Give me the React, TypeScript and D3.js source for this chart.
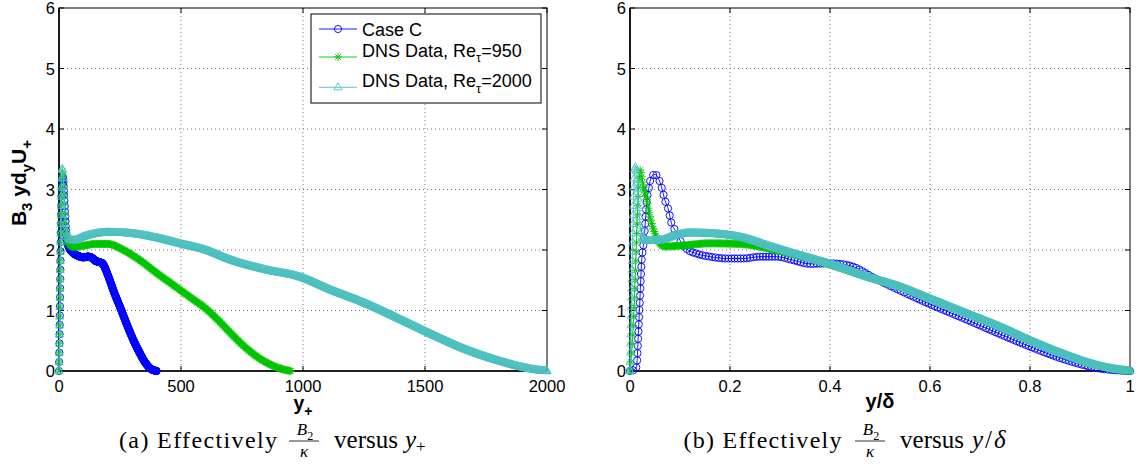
import React, { useEffect, useRef } from "react";
import * as d3 from "d3";

const W = 1139;
const H = 471;

// ---------- Panel (a): x = y+ ----------
const caseC_a_x = [0, 2, 4, 6, 8, 10, 13, 16, 20, 25, 31, 40, 59, 80, 100, 120, 135, 150, 165, 178, 188, 197, 210, 223, 250, 277, 305, 332, 355, 375, 390, 400];
const caseC_a_y = [0, 0.5, 1.1, 1.8, 2.4, 2.85, 3.15, 3.2, 3.0, 2.6, 2.2, 2.05, 1.95, 1.9, 1.88, 1.89, 1.87, 1.82, 1.8, 1.78, 1.71, 1.62, 1.48, 1.33, 1.06, 0.78, 0.51, 0.29, 0.13, 0.04, 0.01, 0];

const dns950_a_x = [0, 2, 4, 6, 8, 10, 12, 14, 17, 20, 25, 30, 40, 60, 100, 150, 200, 264, 332, 400, 469, 537, 605, 650, 700, 750, 800, 850, 900, 930, 950];
const dns950_a_y = [0, 0.6, 1.3, 2.0, 2.6, 3.0, 3.25, 3.3, 3.2, 2.9, 2.5, 2.25, 2.1, 2.05, 2.07, 2.1, 2.1, 2.0, 1.83, 1.62, 1.42, 1.22, 1.02, 0.85, 0.64, 0.44, 0.27, 0.14, 0.05, 0.015, 0];

const dns2000_a_x = [0, 2, 4, 6, 8, 10, 13, 16, 20, 25, 30, 40, 60, 100, 150, 200, 300, 400, 500, 600, 714, 850, 990, 1120, 1260, 1400, 1530, 1670, 1800, 1900, 1960, 2000];
const dns2000_a_y = [0, 0.6, 1.3, 2.0, 2.6, 3.05, 3.35, 3.3, 2.95, 2.55, 2.3, 2.18, 2.16, 2.22, 2.27, 2.29, 2.27, 2.2, 2.1, 2.0, 1.82, 1.67, 1.55, 1.33, 1.11, 0.85, 0.6, 0.35, 0.17, 0.06, 0.015, 0];

// ---------- Panel (b): x = y/delta ----------
const caseC_b_x = [0, 0.008, 0.013, 0.017, 0.02, 0.023, 0.027, 0.03, 0.033, 0.037, 0.043, 0.05, 0.057, 0.063, 0.07, 0.077, 0.083, 0.09, 0.1, 0.113, 0.133, 0.16, 0.193, 0.227, 0.26, 0.293, 0.327, 0.36, 0.4, 0.44, 0.49, 0.54, 0.607, 0.673, 0.74, 0.807, 0.873, 0.94, 0.975, 1.0];
const caseC_b_y = [0, 0.02, 0.07, 0.67, 1.22, 1.78, 2.1, 2.38, 2.77, 2.99, 3.21, 3.25, 3.18, 3.04, 2.82, 2.66, 2.44, 2.33, 2.16, 2.02, 1.94, 1.89, 1.86, 1.86, 1.89, 1.89, 1.83, 1.77, 1.78, 1.74, 1.53, 1.33, 1.08, 0.85, 0.61, 0.38, 0.18, 0.04, 0.01, 0];

const dns950_b_x = [0, 0.004, 0.008, 0.011, 0.014, 0.017, 0.02, 0.027, 0.033, 0.04, 0.05, 0.06, 0.07, 0.1, 0.16, 0.22, 0.28, 0.34, 0.407, 0.473, 0.54, 0.607, 0.673, 0.74, 0.807, 0.873, 0.94, 0.97, 1.0];
const dns950_b_y = [0, 0.4, 1.0, 1.7, 2.4, 3.0, 3.32, 3.04, 2.85, 2.55, 2.27, 2.1, 2.06, 2.07, 2.11, 2.1, 2.02, 1.9, 1.74, 1.56, 1.39, 1.17, 0.95, 0.73, 0.48, 0.26, 0.08, 0.03, 0];

const dns2000_b_x = [0, 0.002, 0.004, 0.006, 0.008, 0.01, 0.013, 0.016, 0.02, 0.025, 0.035, 0.06, 0.09, 0.12, 0.16, 0.227, 0.28, 0.34, 0.407, 0.473, 0.54, 0.607, 0.673, 0.74, 0.807, 0.873, 0.94, 0.97, 1.0];
const dns2000_b_y = [0, 0.7, 1.5, 2.4, 3.1, 3.38, 3.3, 2.9, 2.45, 2.2, 2.15, 2.16, 2.24, 2.28, 2.27, 2.2, 2.06, 1.91, 1.75, 1.56, 1.39, 1.17, 0.95, 0.73, 0.48, 0.26, 0.08, 0.03, 0];

// ---------- ticks ----------
const xTicksA = [0, 500, 1000, 1500, 2000];
const xTickLabelsA = ["0", "500", "1000", "1500", "2000"];
const xTicksB = [0, 0.2, 0.4, 0.6, 0.8, 1];
const xTickLabelsB = ["0", "0.2", "0.4", "0.6", "0.8", "1"];
const yTicks = [0, 1, 2, 3, 4, 5, 6];
const yTickLabels = ["0", "1", "2", "3", "4", "5", "6"];

const seriesNames = ["Case C", "DNS Data, Re", "DNS Data, Re"];
const seriesSuffix = ["", "=950", "=2000"];

const BLUE = "#0000ff";
const GREEN = "#00c400";
const TEAL = "#4cbfbf";

const SANS = "'Liberation Sans', Arial, Helvetica, sans-serif";
const SERIF = "'Liberation Serif', 'Times New Roman', serif";

type Marker = "circle" | "star" | "tri";

function markerPath(kind: Marker, x: number, y: number): string {
  if (kind === "circle") {
    const r = 3.6;
    return `M${x + r},${y}a${r},${r} 0 1,0 ${-2 * r},0a${r},${r} 0 1,0 ${2 * r},0`;
  }
  if (kind === "star") {
    const a = 4, b = 2.9;
    return `M${x - a},${y}H${x + a}M${x},${y - a}V${y + a}M${x - b},${y - b}L${x + b},${y + b}M${x - b},${y + b}L${x + b},${y - b}`;
  }
  return `M${x},${y - 4.6}L${x + 4},${y + 2.6}L${x - 4},${y + 2.6}Z`;
}

// markers follow the drawn curve: one whenever the curve has advanced hx px
// horizontally or sMax px along its length
function markerPositions(node: SVGPathElement, hx: number, sMax: number): [number, number][] {
  const L = node.getTotalLength();
  const pts: [number, number][] = [];
  let prev = node.getPointAtLength(0);
  pts.push([prev.x, prev.y]);
  let ax = 0;
  let as = 0;
  const ds = 0.3;
  for (let s = ds; s <= L; s += ds) {
    const p = node.getPointAtLength(s);
    const dx = Math.abs(p.x - prev.x);
    const seg = Math.hypot(p.x - prev.x, p.y - prev.y);
    ax += dx;
    as += seg;
    if (ax >= hx || as >= sMax) {
      pts.push([p.x, p.y]);
      ax = 0;
      as = 0;
    }
    prev = p;
  }
  const pl = node.getPointAtLength(L);
  pts.push([pl.x, pl.y]);
  return pts;
}

type Series = { xs: number[]; ys: number[]; color: string; marker: Marker; hx: number; sMax: number };

function drawPanel(
  svg: d3.Selection<SVGSVGElement, unknown, null, undefined>,
  left: number,
  right: number,
  xDomain: [number, number],
  xTicks: number[],
  xLabels: string[],
  series: Series[]
) {
  const top = 8;
  const bottom = 371;
  const x = d3.scaleLinear().domain(xDomain).range([left, right]);
  const y = d3.scaleLinear().domain([0, 6]).range([bottom, top]);
  const g = svg.append("g");

  // grid
  xTicks.slice(1, -1).forEach((t) => {
    g.append("line").attr("x1", x(t)).attr("x2", x(t)).attr("y1", top).attr("y2", bottom)
      .attr("stroke", "#7a7a7a").attr("stroke-width", 1).attr("stroke-dasharray", "1,3");
  });
  yTicks.slice(1, -1).forEach((t) => {
    g.append("line").attr("x1", left).attr("x2", right).attr("y1", y(t)).attr("y2", y(t))
      .attr("stroke", "#7a7a7a").attr("stroke-width", 1).attr("stroke-dasharray", "1,3");
  });

  // box
  g.append("rect").attr("x", left).attr("y", top).attr("width", right - left).attr("height", bottom - top)
    .attr("fill", "none").attr("stroke", "#000").attr("stroke-width", 1);
  g.append("line").attr("x1", left).attr("x2", right).attr("y1", bottom).attr("y2", bottom).attr("stroke", "#000").attr("stroke-width", 1.6);
  g.append("line").attr("x1", left).attr("x2", left).attr("y1", top).attr("y2", bottom).attr("stroke", "#000").attr("stroke-width", 1.6);

  // ticks
  const tl = 5;
  xTicks.forEach((t, i) => {
    g.append("line").attr("x1", x(t)).attr("x2", x(t)).attr("y1", bottom).attr("y2", bottom - tl).attr("stroke", "#000");
    g.append("line").attr("x1", x(t)).attr("x2", x(t)).attr("y1", top).attr("y2", top + tl).attr("stroke", "#000");
    g.append("text").attr("x", x(t)).attr("y", 392).attr("text-anchor", "middle")
      .attr("font-family", SANS).attr("font-size", 16.5).text(xLabels[i]);
  });
  yTicks.forEach((t, i) => {
    g.append("line").attr("x1", left).attr("x2", left + tl).attr("y1", y(t)).attr("y2", y(t)).attr("stroke", "#000");
    g.append("line").attr("x1", right).attr("x2", right - tl).attr("y1", y(t)).attr("y2", y(t)).attr("stroke", "#000");
    g.append("text").attr("x", left - 4).attr("y", y(t) + 6).attr("text-anchor", "end")
      .attr("font-family", SANS).attr("font-size", 16.5).text(yTickLabels[i]);
  });

  // series
  series.forEach((s) => {
    const pts: [number, number][] = s.xs.map((v, i) => [v, s.ys[i]]);
    const line = d3.line<[number, number]>().x((d) => x(d[0])).y((d) => y(d[1])).curve(d3.curveMonotoneX);
    const path = g.append("path").attr("d", line(pts) || "").attr("fill", "none")
      .attr("stroke", s.color).attr("stroke-width", 0.9);
    const node = path.node() as SVGPathElement;
    const mp = markerPositions(node, s.hx, s.sMax);
    const d = mp.map(([px, py]) => markerPath(s.marker, px, py)).join("");
    g.append("path").attr("d", d).attr("fill", "none").attr("stroke", s.color).attr("stroke-width", 0.9);
  });
}

type Part = { t: string; sub?: boolean; italic?: boolean };

function addText(
  parent: d3.Selection<any, unknown, null, undefined>,
  parts: Part[],
  opts: { x: number; y: number; anchor?: string; size: number; subSize: number; family: string; weight?: string; transform?: string; textLength?: number }
) {
  const txt = parent.append("text")
    .attr("font-family", opts.family).attr("font-size", opts.size)
    .attr("text-anchor", opts.anchor || "start");
  if (opts.weight) txt.attr("font-weight", opts.weight);
  if (opts.transform) txt.attr("transform", opts.transform);
  else txt.attr("x", opts.x).attr("y", opts.y);
  if (opts.textLength) txt.attr("textLength", opts.textLength).attr("lengthAdjust", "spacing");
  let shifted = 0;
  parts.forEach((p) => {
    const ts = txt.append("tspan").text(p.t);
    if (p.italic) ts.attr("font-style", "italic");
    const off = p.sub ? opts.subSize * 0.42 : 0;
    if (off !== shifted) {
      ts.attr("dy", off - shifted);
      shifted = off;
    }
    if (p.sub) ts.attr("font-size", opts.subSize);
  });
  return txt;
}

export default function App() {
  const ref = useRef<SVGSVGElement>(null);
  useEffect(() => {
    if (!ref.current) return;
    const svg = d3.select(ref.current);
    svg.selectAll("*").remove();
    svg.append("rect").attr("width", W).attr("height", H).attr("fill", "#fff");

    drawPanel(svg, 59, 547, [0, 2000], xTicksA, xTickLabelsA, [
      { xs: caseC_a_x, ys: caseC_a_y, color: BLUE, marker: "circle", hx: 0.25, sMax: 9 },
      { xs: dns950_a_x, ys: dns950_a_y, color: GREEN, marker: "star", hx: 0.6, sMax: 9 },
      { xs: dns2000_a_x, ys: dns2000_a_y, color: TEAL, marker: "tri", hx: 0.6, sMax: 9 },
    ]);
    drawPanel(svg, 630, 1130, [0, 1], xTicksB, xTickLabelsB, [
      { xs: caseC_b_x, ys: caseC_b_y, color: BLUE, marker: "circle", hx: 3, sMax: 7 },
      { xs: dns950_b_x, ys: dns950_b_y, color: GREEN, marker: "star", hx: 0.8, sMax: 9 },
      { xs: dns2000_b_x, ys: dns2000_b_y, color: TEAL, marker: "tri", hx: 0.8, sMax: 9 },
    ]);

    // axis labels
    addText(svg, [{ t: "B" }, { t: "3", sub: true }, { t: " yd" }, { t: "y", sub: true }, { t: "U" }, { t: "+", sub: true }],
      { x: 0, y: 0, anchor: "middle", size: 21, subSize: 15, family: SANS, weight: "bold", transform: "translate(26,183) rotate(-90)" });
    addText(svg, [{ t: "y" }, { t: "+", sub: true }], { x: 303, y: 410, anchor: "middle", size: 19.5, subSize: 14, family: SANS, weight: "bold" });
    addText(svg, [{ t: "y/δ" }], { x: 880, y: 408, anchor: "middle", size: 20, subSize: 14, family: SANS, weight: "bold" });

    // legend
    const lg = svg.append("g");
    lg.append("rect").attr("x", 311).attr("y", 14).attr("width", 230).attr("height", 89)
      .attr("fill", "#fff").attr("stroke", "#000").attr("stroke-width", 1);
    const lineYs = [29, 57, 87.3];
    const baseYs = [36, 57, 87.3];
    const cols = [BLUE, GREEN, TEAL];
    const mks: Marker[] = ["circle", "star", "tri"];
    seriesNames.forEach((name, i) => {
      lg.append("line").attr("x1", 319).attr("x2", 357).attr("y1", lineYs[i]).attr("y2", lineYs[i])
        .attr("stroke", cols[i]).attr("stroke-width", 0.9);
      lg.append("path").attr("d", markerPath(mks[i], 338, lineYs[i])).attr("fill", "none")
        .attr("stroke", cols[i]).attr("stroke-width", 0.9);
      const parts: Part[] = i === 0 ? [{ t: name }] : [{ t: name }, { t: "τ", sub: true }, { t: seriesSuffix[i] }];
      addText(lg, parts, { x: 362, y: baseYs[i], size: 18, subSize: 13, family: SANS });
    });

    // captions
    const cap = svg.append("g");
    const base = 448;
    const caption = (x0: number, label: string, fx: number, tail: { t: string; x: number; italic?: boolean; len?: number; sub?: boolean }[]) => {
      addText(cap, [{ t: label }], { x: x0, y: base, size: 24, subSize: 17, family: SERIF, textLength: 158 });
      addText(cap, [{ t: "B", italic: true }, { t: "2", sub: true }], { x: fx + 1, y: 435, anchor: "middle", size: 17, subSize: 12, family: SERIF });
      cap.append("line").attr("x1", fx - 15).attr("x2", fx + 15).attr("y1", 441).attr("y2", 441).attr("stroke", "#000").attr("stroke-width", 0.8);
      addText(cap, [{ t: "κ", italic: true }], { x: fx, y: 457, anchor: "middle", size: 17, subSize: 12, family: SERIF });
      tail.forEach((p) => {
        addText(cap, [{ t: p.t, italic: p.italic }], {
          x: p.x, y: p.sub ? base + 4 : base, size: p.sub ? 17 : 25, subSize: 17, family: SERIF, textLength: p.len,
        });
      });
    };
    caption(119, "(a) Effectively", 304, [
      { t: "versus", x: 334, len: 64 },
      { t: "y", x: 405, italic: true },
      { t: "+", x: 416, sub: true },
    ]);
    caption(683.5, "(b) Effectively", 870, [
      { t: "versus", x: 900, len: 64 },
      { t: "y", x: 972, italic: true },
      { t: "/", x: 985 },
      { t: "δ", x: 994, italic: true },
    ]);
  }, []);

  return (
    <svg
      ref={ref}
      width={W}
      height={H}
      style={{ position: "absolute", left: 0, top: 0, display: "block" }}
    />
  );
}
